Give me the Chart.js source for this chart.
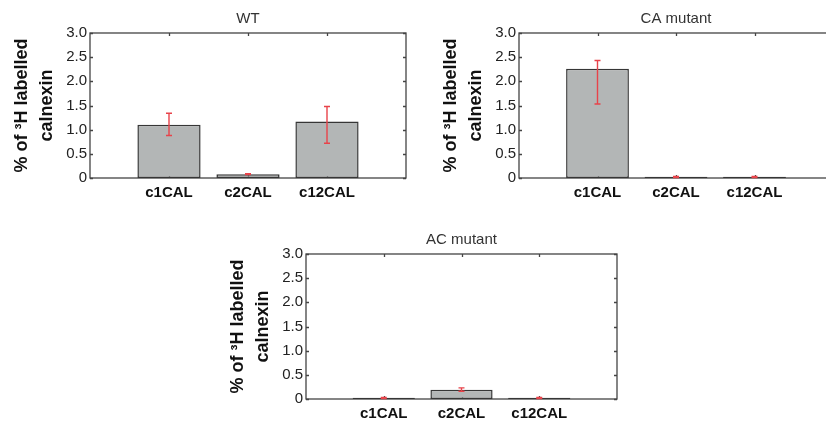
<!DOCTYPE html>
<html>
<head>
<meta charset="utf-8">
<script src="https://cdn.jsdelivr.net/npm/chart.js@4.4.1/dist/chart.umd.min.js"></script>
<style>
  html, body { margin: 0; padding: 0; background: #fff; overflow: hidden; }
  body { width: 826px; height: 427px; position: relative; }
  .panel { position: absolute; width: 420px; height: 200px; }
</style>
</head>
<body>
<div class="panel" style="left:0;top:0"><canvas id="wt"></canvas></div>
<div class="panel" style="left:420px;top:0"><canvas id="ca"></canvas></div>
<div class="panel" style="left:216px;top:221px"><canvas id="ac"></canvas></div>
<script>
// Data
const categories = ['c1CAL', 'c2CAL', 'c12CAL'];
const yTicks = [0, 0.5, 1.0, 1.5, 2.0, 2.5, 3.0];

const wtValues   = [1.10, 0.08, 1.17];
const wtErrLow   = [0.88, 0.07, 0.72];
const wtErrHigh  = [1.34, 0.09, 1.48];

const caValues   = [2.26, 0.025, 0.025];
const caErrLow   = [1.53, 0.01, 0.01];
const caErrHigh  = [2.43, 0.03, 0.03];

const acValues   = [0.025, 0.19, 0.025];
const acErrLow   = [0.01, 0.16, 0.01];
const acErrHigh  = [0.03, 0.23, 0.03];

const FONT = "Arial, 'Liberation Sans', Helvetica, sans-serif";
const AXIS = '#444';
const RED  = '#e8434a';

// pad with empty slots so bars sit at 1,2,3 on a 0..4 axis (like the original)
const padLabels = ['', ...categories, ''];
const pad = arr => [null, ...arr, null];

// Box around the plot with inward ticks
const framePlugin = {
  id: 'frame',
  beforeDatasetsDraw(chart) {
    const { ctx, chartArea: a, scales: { x, y } } = chart;
    ctx.save();
    ctx.strokeStyle = AXIS;
    ctx.lineWidth = 1.3;
    ctx.strokeRect(a.left, a.top, a.right - a.left, a.bottom - a.top);
    ctx.beginPath();
    yTicks.forEach(v => {
      const py = Math.round(y.getPixelForValue(v)) + 0.5;
      ctx.moveTo(a.left, py); ctx.lineTo(a.left + 3, py);
      ctx.moveTo(a.right, py); ctx.lineTo(a.right - 3, py);
    });
    categories.forEach((c, i) => {
      const px = Math.round(x.getPixelForValue(i + 1)) + 0.5;
      ctx.moveTo(px, a.top); ctx.lineTo(px, a.top + 3);
      ctx.moveTo(px, a.bottom); ctx.lineTo(px, a.bottom - 3);
    });
    ctx.stroke();
    ctx.restore();
  }
};

// Red error bars, positioned with the chart's own scales
const errorBarPlugin = {
  id: 'errorBars',
  afterDatasetsDraw(chart, args, opts) {
    const { ctx, scales: { y } } = chart;
    const meta = chart.getDatasetMeta(0);
    ctx.save();
    ctx.strokeStyle = RED;
    ctx.lineWidth = 1.4;
    opts.low.forEach((lo, i) => {
      const bar = meta.data[i + 1];
      if (!bar) return;
      const px = bar.x;
      const yLo = y.getPixelForValue(lo);
      const yHi = y.getPixelForValue(opts.high[i]);
      ctx.beginPath();
      ctx.moveTo(px, yLo); ctx.lineTo(px, yHi);
      ctx.moveTo(px - 3, yLo); ctx.lineTo(px + 3, yLo);
      ctx.moveTo(px - 3, yHi); ctx.lineTo(px + 3, yHi);
      ctx.stroke();
    });
    ctx.restore();
  }
};

function makeChart(id, title, values, low, high, padLeft, padRight) {
  return new Chart(document.getElementById(id), {
    type: 'bar',
    data: {
      labels: padLabels,
      datasets: [{
        data: pad(values),
        backgroundColor: '#b3b6b6',
        borderColor: '#363636',
        borderWidth: 1.5,
        borderSkipped: false,
        barPercentage: 0.8,
        categoryPercentage: 1.0
      }]
    },
    options: {
      responsive: true,
      maintainAspectRatio: false,
      animation: false,
      layout: { padding: { left: padLeft, right: padRight, top: 0, bottom: 0 } },
      plugins: {
        legend: { display: false },
        tooltip: { enabled: false },
        title: {
          display: true,
          text: title,
          fullSize: false,
          color: '#333',
          font: { family: FONT, size: 15, weight: 'normal', lineHeight: 1.2 },
          padding: { top: 10, bottom: 5 }
        },
        errorBars: { low, high }
      },
      scales: {
        x: {
          type: 'category',
          offset: false,
          grid: { display: false, drawTicks: false },
          border: { display: false },
          ticks: {
            autoSkip: false,
            maxRotation: 0,
            padding: 6,
            color: '#111',
            font: { family: FONT, size: 15, weight: 'bold' }
          },
          afterFit: s => { s.height = 22; }
        },
        y: {
          min: 0,
          max: 3,
          afterBuildTicks: s => { s.ticks = yTicks.map(v => ({ value: v })); },
          grid: { display: false, drawTicks: false },
          border: { display: false },
          ticks: {
            padding: 3,
            color: '#222',
            font: { family: FONT, size: 15 },
            callback: v => v === 0 ? '0' : Number(v).toFixed(1)
          },
          title: {
            display: true,
            text: ['% of \u00B3H labelled', 'calnexin'],
            color: '#111',
            font: { family: FONT, size: 18, weight: 'bold', lineHeight: 1.4 },
            padding: { top: 9, bottom: 0 }
          },
          afterFit: s => { s.width = 90; }
        }
      }
    },
    plugins: [framePlugin, errorBarPlugin]
  });
}

makeChart('wt', 'WT', wtValues, wtErrLow, wtErrHigh, 0, 14);
makeChart('ca', 'CA mutant', caValues, caErrLow, caErrHigh, 9, 7);
makeChart('ac', 'AC mutant', acValues, acErrLow, acErrHigh, 0, 19);
</script>
</body>
</html>
